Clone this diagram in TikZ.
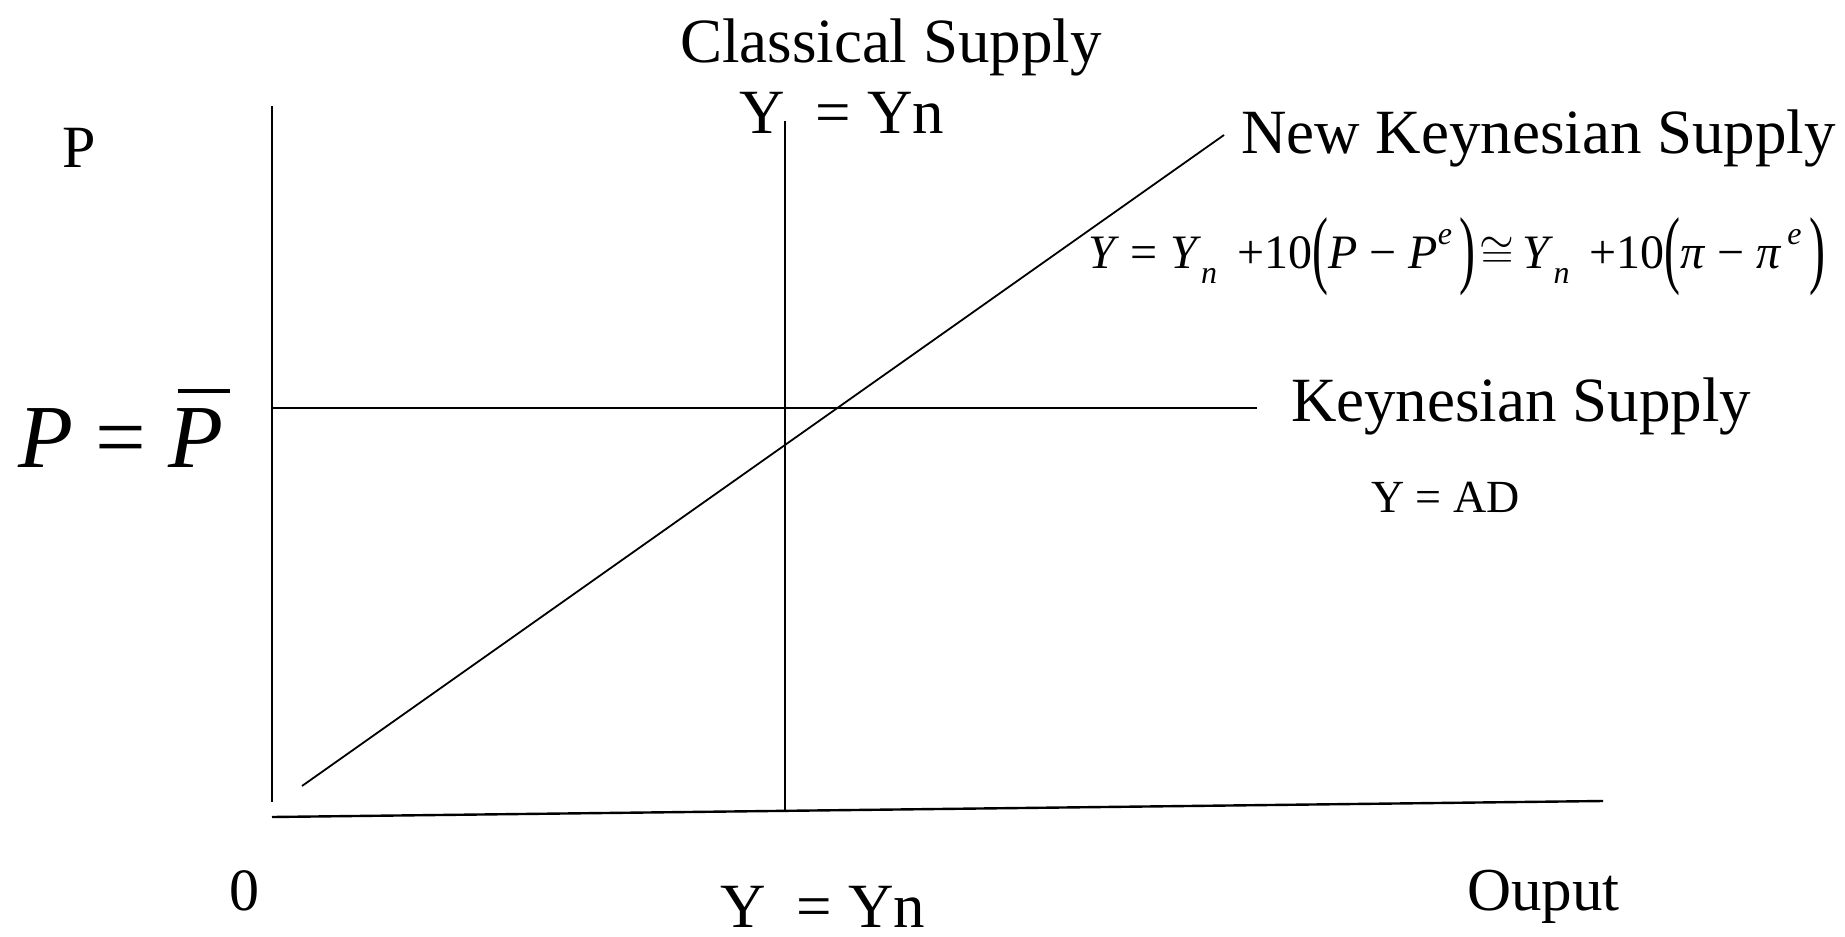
\documentclass[tikz,border=0pt]{standalone}
\usepackage{fontspec}
\usepackage{graphicx}
\setmainfont{Liberation Serif}
\newcommand\fsz[1]{\fontsize{#1}{#1}\selectfont}
\newcommand\mysub[1]{\raisebox{-0.33em}{\fsz{32}\itshape #1}}
\newcommand\mysup[1]{\raisebox{0.5em}{\fsz{32}\itshape #1}}
\newcommand\bigpar[1]{\raisebox{-0.2em}{\scalebox{1}[1.8]{#1}}}
\newcommand\congsym{\scalebox{1.8}{$\cong$}}
\tikzset{
  lbl/.style={anchor=base west, inner sep=0pt, outer sep=0pt},
  curve/.style={line width=1.8pt, black},
  axis/.style={line width=2.4pt, black}
}
\begin{document}
\begin{tikzpicture}[x=1pt,y=-1pt]
\useasboundingbox (0,0) rectangle (1845,937);
% coordinates
\coordinate (vtop) at (272,106);
\coordinate (vbot) at (272,802);
\coordinate (hleft) at (272,817);
\coordinate (hright) at (1603,801);
\coordinate (ctop) at (785,121);
\coordinate (cbot) at (785,812);
\coordinate (nkb) at (302,786);
\coordinate (nkt) at (1224,135);
\coordinate (kl) at (272,408);
\coordinate (kr) at (1257,408);
% lines
\draw[axis] (vtop) -- (vbot);
\draw[axis] (hleft) -- (hright);
\draw[curve] (ctop) -- (cbot);
\draw[curve] (nkb) -- (nkt);
\draw[curve] (kl) -- (kr);
% labels
\node[lbl, font=\fsz{63}] (cls) at (680,62) {Classical Supply};
\node[lbl, font=\fsz{63}] (clsy) at (739,133) {Y\ \ = Yn};
\node[lbl, font=\fsz{60}] (plab) at (62,167) {P};
\node[lbl, font=\fsz{63}] (nks) at (1241,153) {New Keynesian Supply};
\node[lbl, font=\fsz{48}] (nkeq) at (1088,268) {\textit{Y} = \textit{Y}\mysub{n} \,+10\bigpar{(}\textit{P} − \textit{P}\mysup{e}\,\bigpar{)}\hspace{0.08em}\congsym\,\textit{Y}\mysub{n} \,+10\bigpar{(}\textit{π} − \textit{π}\mysup{\,e}\,\bigpar{)}};
\node[lbl, font=\fsz{63}] (ks) at (1291,421) {Keynesian Supply};
\node[lbl, font=\fsz{46}] (yad) at (1371,512) {Y = AD};
\node[lbl, font=\fsz{90}] (pbar) at (18,467) {\textit{P} = \makebox[0pt][l]{\hspace{0.1em}\raisebox{0.82em}{\rule{0.58em}{0.05em}}}\textit{P}};
\node[lbl, font=\fsz{60}] (zero) at (229,910) {0};
\node[lbl, font=\fsz{61}] (out) at (1467,910) {Ouput};
\node[lbl, font=\fsz{63}] (yb) at (720,927) {Y\ \ = Yn};
\end{tikzpicture}
\end{document}
